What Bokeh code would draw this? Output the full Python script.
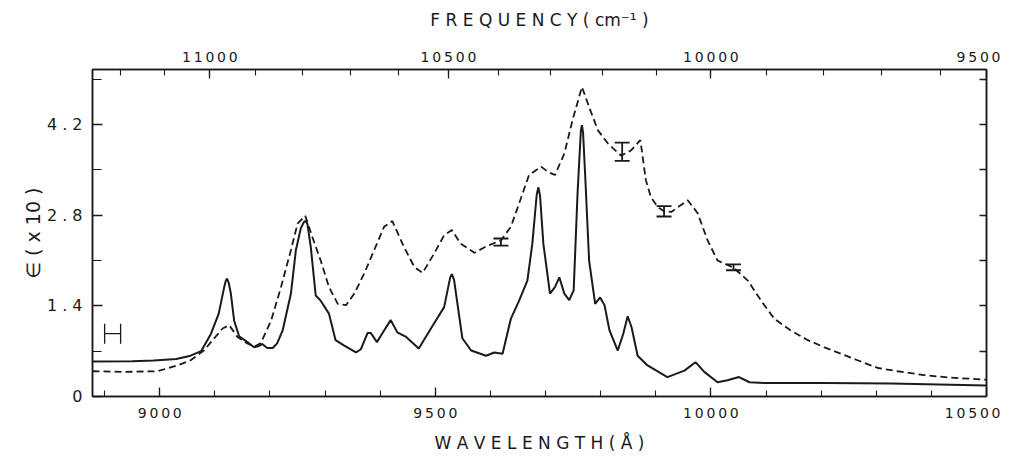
from bokeh.plotting import figure
from bokeh.models import (LinearAxis, FixedTicker, CustomJSTickFormatter, Whisker,
                          ColumnDataSource, TeeHead, Range1d)
from bokeh.embed import file_html
from bokeh.resources import INLINE

# ---------------- data ----------------
wl_solid = [8878, 8950, 8989, 9030, 9056, 9075, 9093, 9107, 9117, 9120, 9122, 9125, 9129, 9135,
            9144, 9159, 9171, 9180, 9186, 9195, 9205, 9213, 9223, 9238, 9247, 9256, 9262, 9265,
            9268, 9274, 9283, 9292, 9307, 9319, 9334, 9356, 9365, 9377, 9383, 9394, 9407, 9419,
            9431, 9447, 9470, 9497, 9516, 9527, 9530, 9534, 9540, 9549, 9565, 9592, 9607, 9622,
            9637, 9652, 9667, 9676, 9684, 9687, 9690, 9696, 9708, 9717, 9725, 9734, 9743, 9751,
            9758, 9764, 9766, 9768, 9772, 9779, 9790, 9799, 9807, 9816, 9831, 9841, 9849, 9856,
            9867, 9885, 9921, 9952, 9972, 9988, 10012, 10030, 10051, 10070, 10097, 10205, 10327,
            10500]
eps_solid = [0.54, 0.545, 0.555, 0.58, 0.63, 0.70, 0.97, 1.28, 1.69, 1.79, 1.82, 1.76, 1.59, 1.17,
             0.93, 0.84, 0.76, 0.78, 0.81, 0.75, 0.75, 0.82, 1.02, 1.59, 2.26, 2.60, 2.70, 2.71,
             2.66, 2.31, 1.56, 1.48, 1.28, 0.87, 0.79, 0.68, 0.73, 0.98, 0.98, 0.84, 1.02, 1.18,
             0.99, 0.92, 0.74, 1.12, 1.38, 1.84, 1.89, 1.80, 1.44, 0.90, 0.71, 0.63, 0.68, 0.66,
             1.20, 1.48, 1.79, 2.36, 3.12, 3.23, 3.10, 2.36, 1.59, 1.69, 1.84, 1.59, 1.49, 1.64,
             3.13, 4.10, 4.19, 4.08, 3.39, 2.10, 1.43, 1.53, 1.41, 1.02, 0.71, 0.97, 1.24, 1.07,
             0.63, 0.48, 0.30, 0.40, 0.53, 0.38, 0.22, 0.25, 0.30, 0.22, 0.21, 0.21, 0.20,
             0.17]

wl_dash = [8878, 8935, 8996, 9032, 9056, 9080, 9098, 9114, 9126, 9141, 9159, 9171, 9183, 9202,
           9220, 9238, 9250, 9264, 9277, 9292, 9307, 9323, 9338, 9353, 9371, 9389, 9407, 9422,
           9443, 9462, 9477, 9498, 9516, 9530, 9546, 9571, 9595, 9619, 9637, 9652, 9670, 9692,
           9704, 9717, 9734, 9749, 9766, 9779, 9795, 9813, 9837, 9855, 9872, 9882, 9891, 9903,
           9915, 9928, 9958, 9976, 9994, 10012, 10041, 10067, 10091, 10115, 10145, 10176, 10206,
           10236, 10266, 10303, 10339, 10387, 10436, 10500]
eps_dash = [0.39, 0.38, 0.39, 0.48, 0.56, 0.71, 0.89, 1.05, 1.10, 0.92, 0.82, 0.77, 0.82, 1.17,
            1.69, 2.26, 2.67, 2.79, 2.46, 2.10, 1.69, 1.43, 1.41, 1.59, 1.90, 2.26, 2.62, 2.71,
            2.31, 2.00, 1.91, 2.21, 2.49, 2.57, 2.36, 2.22, 2.33, 2.41, 2.62, 2.98, 3.42, 3.55,
            3.47, 3.42, 3.75, 4.27, 4.78, 4.47, 4.11, 3.91, 3.72, 3.80, 3.96, 3.34, 3.08, 2.93,
            2.86, 2.85, 3.03, 2.83, 2.41, 2.10, 1.99, 1.79, 1.48, 1.20, 1.02, 0.87, 0.76,
            0.66, 0.56, 0.44, 0.39, 0.33, 0.29, 0.26]

# error bars on the dashed curve
err_wl = [9619, 9839, 9915, 10041]
err_lo = [2.33, 3.64, 2.78, 1.95]
err_hi = [2.44, 3.92, 2.94, 2.04]

# resolution marker (horizontal bar)
res_eps = [0.97]
res_lo = [8900]
res_hi = [8929]

# axes
x_start, x_end = 8878, 10500
y_start, y_end = 0, 5.05
wl_major = [9000, 9500, 10000, 10500]
wl_minor = list(range(8900, 10501, 100))
eps_major = [0, 1.4, 2.8, 4.2]
eps_minor = [0.7, 2.1, 3.5, 4.9]
eps_right = [0.7, 1.4, 2.1, 2.8, 3.5, 4.2, 4.9]
freq_major = [11000, 10500, 10000, 9500]
freq_minor = list(range(11200, 9599, -100))

FONT = "DejaVu Sans"
INK = "#1a1a1a"

p = figure(width=1000, height=456, output_backend="svg", toolbar_location=None,
           x_range=Range1d(x_start, x_end), y_range=Range1d(y_start, y_end),
           min_border_left=92, min_border_right=14, min_border_top=69, min_border_bottom=60)
p.xgrid.visible = False
p.ygrid.visible = False
p.outline_line_color = INK
p.outline_line_width = 1.5


def style_axis(ax, tick_in=9, minor_in=5):
    ax.axis_line_color = INK
    ax.axis_line_width = 1.5
    ax.major_tick_line_color = INK
    ax.minor_tick_line_color = INK
    ax.major_tick_line_width = 1.3
    ax.minor_tick_line_width = 1.1
    ax.major_tick_in = tick_in
    ax.major_tick_out = 0
    ax.minor_tick_in = minor_in
    ax.minor_tick_out = 0
    ax.major_label_text_font = FONT
    ax.major_label_text_color = INK
    ax.axis_label_text_font = FONT
    ax.axis_label_text_color = INK
    ax.axis_label_text_font_style = "normal"


# bottom axis
xa = p.xaxis[0]
xa.ticker = FixedTicker(ticks=wl_major, minor_ticks=wl_minor)
xa.formatter = CustomJSTickFormatter(code="return String(Math.round(tick)).split('').join('\u2009');")
style_axis(xa, 9, 6)
xa.major_label_text_font_size = "14px"
xa.major_label_standoff = 8
xa.axis_label = "W A V E L E N G T H ( Å )"
xa.axis_label_text_font_size = "17px"
xa.axis_label_standoff = 9

# left axis
ya = p.yaxis[0]
ya.ticker = FixedTicker(ticks=eps_major, minor_ticks=eps_minor)
ya.formatter = CustomJSTickFormatter(
    code="if (Math.abs(tick) < 1e-9) return '0'; return tick.toFixed(1).split('').join(' ');")
style_axis(ya, 10, 9)
ya.major_label_text_font_size = "16px"
ya.major_label_standoff = 10
ya.axis_label = "∈ ( x 10 )"
ya.axis_label_text_font_size = "19px"
ya.axis_label_standoff = 0

# top axis: frequency (cm^-1) = 1e8 / wavelength (Å)
top_major = [min(1e8 / f, x_end) for f in freq_major]
top_minor = [1e8 / f for f in freq_minor]
ta = LinearAxis(ticker=FixedTicker(ticks=top_major, minor_ticks=top_minor),
                formatter=CustomJSTickFormatter(
                    code="const f = Math.round(1e8/tick/500)*500; return String(f).split('').join('\u2009');"))
style_axis(ta, 9, 6)
ta.major_label_text_font_size = "14px"
ta.major_label_standoff = 5
ta.axis_label = "F R E Q U E N C Y ( cm⁻¹ )"
ta.axis_label_text_font_size = "17px"
ta.axis_label_standoff = 16
p.add_layout(ta, "above")

# right axis: ticks only
ra = LinearAxis(ticker=FixedTicker(ticks=eps_right, minor_ticks=[]),
                formatter=CustomJSTickFormatter(code="return '';"))
style_axis(ra, 7, 0)
ra.major_label_text_font_size = "1px"
ra.major_label_standoff = 0
p.add_layout(ra, "right")

# curves
p.line(wl_dash, eps_dash, line_color=INK, line_width=1.8, line_dash="7 4")
p.line(wl_solid, eps_solid, line_color=INK, line_width=2.0)

# error bars
src = ColumnDataSource(dict(base=err_wl, lower=err_lo, upper=err_hi))
p.add_layout(Whisker(base="base", lower="lower", upper="upper", source=src, dimension="height",
                     line_color=INK, line_width=1.8,
                     upper_head=TeeHead(size=15, line_width=1.8, line_color=INK),
                     lower_head=TeeHead(size=15, line_width=1.8, line_color=INK)))

rsrc = ColumnDataSource(dict(base=res_eps, lower=res_lo, upper=res_hi))
p.add_layout(Whisker(base="base", lower="lower", upper="upper", source=rsrc, dimension="width",
                     line_color=INK, line_width=1.3,
                     upper_head=TeeHead(size=20, line_width=1.3, line_color=INK),
                     lower_head=TeeHead(size=20, line_width=1.3, line_color=INK)))

open("out.html", "w").write(file_html(p, INLINE))
